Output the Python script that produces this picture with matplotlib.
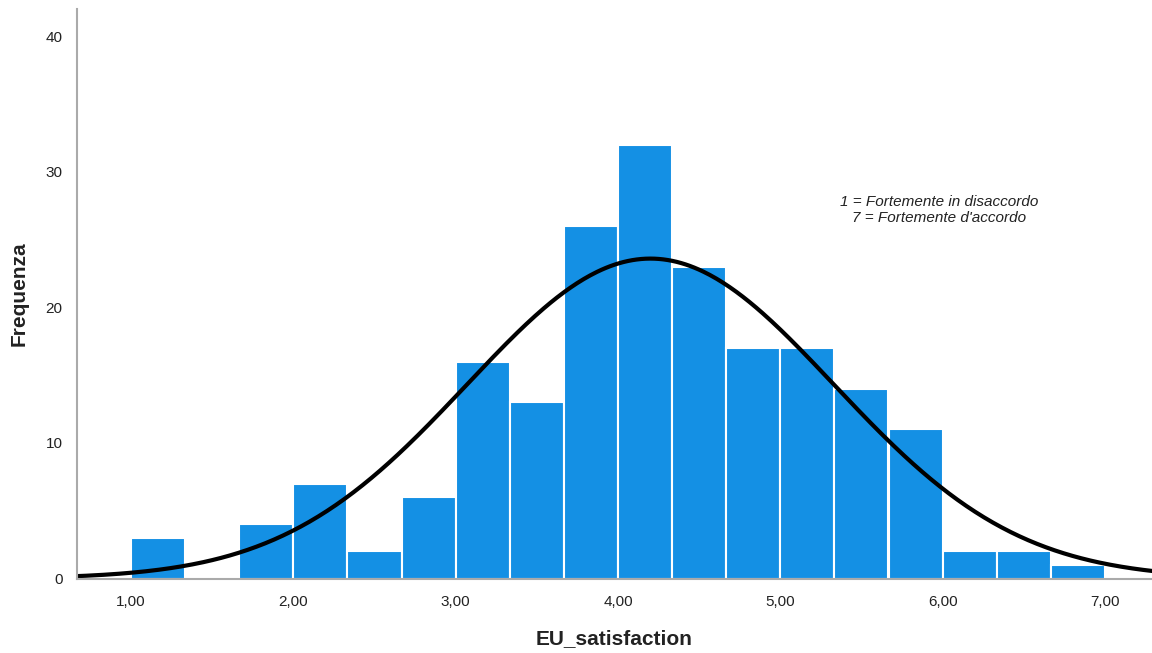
import numpy as np
import matplotlib
matplotlib.use("Agg")
import matplotlib.pyplot as plt

plt.rcParams['font.family'] = ['Liberation Sans', 'DejaVu Sans']

# Histogram data
bin_starts = [1.0, 1.3333, 1.6667, 2.0, 2.3333, 2.6667, 3.0, 3.3333, 3.6667,
              4.0, 4.3333, 4.6667, 5.0, 5.3333, 5.6667, 6.0, 6.3333, 6.6667]
bin_width = 1.0 / 3.0
counts = [3, 0, 4, 7, 2, 6, 16, 13, 26, 32, 23, 17, 17, 14, 11, 2, 2, 1]

# Normal curve parameters
curve_mean = 4.2
curve_sd = 1.13
curve_peak = 23.6

x_ticks = [1, 2, 3, 4, 5, 6, 7]
x_ticklabels = ["1,00", "2,00", "3,00", "4,00", "5,00", "6,00", "7,00"]
y_ticks = [0, 10, 20, 30, 40]

fig = plt.figure(figsize=(11.52, 6.53), dpi=100)
ax = fig.add_axes([0.0665, 0.114, 0.9335, 0.872])

ax.bar(bin_starts, counts, width=bin_width, align='edge', color='#1490E4',
       edgecolor='white', linewidth=1.5, zorder=2)

xs = np.linspace(0.6, 7.4, 500)
ys = curve_peak * np.exp(-0.5 * ((xs - curve_mean) / curve_sd) ** 2)
ax.plot(xs, ys, color='black', linewidth=3.0, zorder=3)

ax.set_xlim(0.665, 7.29)
ax.set_ylim(0, 42)
ax.set_xticks(x_ticks)
ax.set_xticklabels(x_ticklabels)
ax.set_yticks(y_ticks)
ax.tick_params(axis='both', length=0, labelsize=11, colors='#222222', pad=10)
ax.tick_params(axis='x', pad=12)

for s in ['top', 'right']:
    ax.spines[s].set_visible(False)
for s in ['left', 'bottom']:
    ax.spines[s].set_color('#aaaaaa')
    ax.spines[s].set_linewidth(1.5)
    ax.spines[s].set_zorder(4)

ax.set_xlabel("EU_satisfaction", fontsize=15, fontweight='bold', color='#222222', labelpad=14)
ax.set_ylabel("Frequenza", fontsize=15, fontweight='bold', color='#222222', labelpad=12)

ax.text(5.0 + (938 - 779) / 162.3, 27.2, "1 = Fortemente in disaccordo\n7 = Fortemente d'accordo",
        ha='center', va='center', fontsize=11, style='italic', color='#222222',
        linespacing=1.15, multialignment='center')

fig.savefig("out.png", dpi=100, facecolor='white')
